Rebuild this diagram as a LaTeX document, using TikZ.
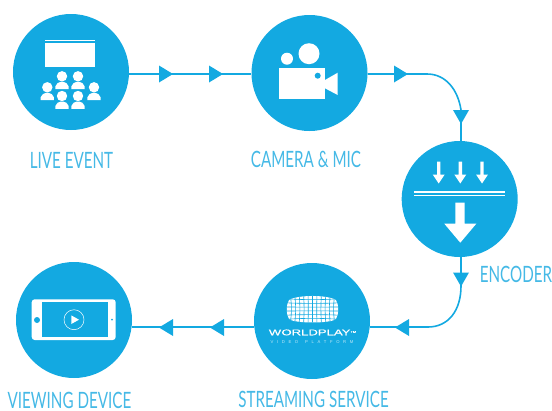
\documentclass[tikz,border=0pt]{standalone}
\usepackage{fontspec}
\newfontfamily\lab[FakeStretch=0.675]{Lato}
\newfontfamily\wpa[FakeStretch=1.58,FakeBold=0.3]{Liberation Sans}
\newfontfamily\wpb{Liberation Sans}
\usetikzlibrary{calc}
\definecolor{wb}{HTML}{13A9E1}
\definecolor{wl}{HTML}{45B9E6}
\tikzset{
  stage/.style={circle,fill=wb,draw=none,minimum size=116pt,inner sep=0pt},
  caption/.style={text=wl,font=\lab\fontsize{22.5}{24}\selectfont,inner sep=0pt,anchor=center},
  link/.style={draw=wb,line width=1.6pt},
  tri/.style={fill=wb,draw=none},
  ico/.style={fill=white,draw=none}
}
\newcommand{\person}[2]{%
  \fill[white] (#1,#2) circle (5.2);
  \fill[white] ($(#1,#2)+(-6.6,12.8)$) -- ($(#1,#2)+(-6.6,10)$) .. controls ($(#1,#2)+(-6.2,7)$) and ($(#1,#2)+(-3,6)$) .. ($(#1,#2)+(-1.5,5.6)$) -- ($(#1,#2)+(1.5,5.6)$) .. controls ($(#1,#2)+(3,6)$) and ($(#1,#2)+(6.2,7)$) .. ($(#1,#2)+(6.6,10)$) -- ($(#1,#2)+(6.6,12.8)$) -- cycle;
}
\newcommand{\triR}[2]{\fill[tri] (#1,#2-8.5) -- (#1+14,#2) -- (#1,#2+8.5) -- cycle;}
\newcommand{\triL}[2]{\fill[tri] (#1,#2) -- (#1+14,#2-8.5) -- (#1+14,#2+8.5) -- cycle;}
\newcommand{\triD}[2]{\fill[tri] (#1-8,#2) -- (#1+8,#2) -- (#1,#2+14) -- cycle;}
\newcommand{\smarrow}[1]{\fill[white] (#1-1.7,161.7) -- (#1+1.7,161.7) -- (#1+1.7,174.5) -- (#1+6,174.5) -- (#1,183.5) -- (#1-6,174.5) -- (#1-1.7,174.5) -- cycle;}
\begin{document}
\begin{tikzpicture}[x=1pt,y=-1pt]
\useasboundingbox (0,0) rectangle (552,410);
% stages
\node[stage] (live) at (71,72) {};
\node[stage] (cam) at (309.5,73) {};
\node[stage] (enc) at (459.7,199) {};
\node[stage] (stream) at (312,321) {};
\node[stage] (view) at (74,320) {};
% connectors
\coordinate (c1) at (408,74);
\coordinate (c2) at (461,110);
\coordinate (c3) at (461,286);
\coordinate (c4) at (409,327);
\draw[link] (live.center |- c1) ++(58,0) -- (cam.west |- c1);
\draw[link] (cam.east |- c1) -- (c1) -- (427,74) .. controls (446,74) and (458,90) .. (c2) -- (c2 |- enc.north);
\draw[link] (c2 |- enc.south) -- (c3) .. controls (461,311) and (448,327) .. (428,327) -- (stream.east |- c4);
\draw[link] (stream.west |- c4) -- (view.east |- c4);
\triR{159}{74}\triR{209}{74}\triR{394}{74}
\triD{461}{110}\triD{461}{272.5}
\triL{395}{327.5}\triL{210}{327.5}\triL{159}{327.5}
% live icon
\fill[white] (45.3,40.3) rectangle (95,41.2);
\fill[white] (45.3,42.7) rectangle (95,66.7);
\person{47.3}{87.3}\person{94}{87.3}
\person{62}{76.3}\person{78}{76.3}
\person{62}{96}\person{78}{96}
% camera icon
\fill[white] (309,53.7) circle (10.5);
\fill[white] (287,58.7) circle (6);
\fill[white] (278.7,67.7) rectangle (325,99);
\fill[wb] (317.7,75.7) circle (3);
\fill[white] (325,80) -- (337.7,72.7) -- (337.7,95) -- (325,88.3) -- cycle;
% encoder icon
\smarrow{438.7}\smarrow{460.3}\smarrow{482}
\fill[white] (413.7,191) rectangle (504.7,192.6);
\fill[white] (413.7,194.9) rectangle (504.7,195.8);
\fill[white] (455.3,202.7) -- (464.7,202.7) -- (464.7,223.7) -- (476.3,223.7) -- (460.3,242.7) -- (444.3,223.7) -- (455.3,223.7) -- cycle;
% worldplay logo
\begin{scope}
\clip (294,298) .. controls (304,295.3) and (321,295.3) .. (331,298) .. controls (336,299) and (337.2,301) .. (337.6,304) .. controls (338.4,308) and (338.4,311) .. (337.6,315) .. controls (337.2,318) and (336,320) .. (331,321) .. controls (321,323) and (304,323) .. (294,321) .. controls (289,320) and (287.8,318) .. (287.4,315) .. controls (286.6,311) and (286.6,308) .. (287.4,304) .. controls (287.8,301) and (289,299) .. (294,298) -- cycle;
\fill[white] (280,290) rectangle (345,330);
\foreach \v in {-21.5,-17.2,-12.9,-8.6,-4.3,0,4.3,8.6,12.9,17.2,21.5}
  \draw[wb,line width=.6pt] (312.5+\v*1.04,294) .. controls (312.5+\v*.96,305) and (312.5+\v*.96,313) .. (312.5+\v*1.04,324);
\foreach \h in {-10,-6,-2,2,6,10}
  \draw[wb,line width=.6pt] (284,309+\h*1.05) .. controls (300,309+\h*.9) and (325,309+\h*.9) .. (341,309+\h*1.05);
\end{scope}
\node[inner sep=0pt,text=white] (wlogo) at (312.5,332.4) {\wpa\fontsize{8.3}{9}\selectfont W\kern.3pt ORLDPLAY\raisebox{2.5pt}{\fontsize{2.5}{3}\selectfont TM}};
\node[inner sep=0pt,text=white!75!wb] (wsub) at (312,341.7) {\wpb\fontsize{4.2}{5}\selectfont V\kern3.6pt I\kern3.6pt D\kern3.6pt E\kern3.6pt O\kern7pt P\kern3.6pt L\kern3.6pt A\kern3.6pt T\kern3.6pt F\kern3.6pt O\kern3.6pt R\kern3.6pt M};
% phone icon
\fill[white,rounded corners=3] (31.7,299.3) rectangle (115.7,340);
\fill[wb] (42.3,302) rectangle (108.3,337.3);
\fill[wb] (37,320) circle (3);
\fill[wb] (112,319.5) circle (1);
\draw[white,line width=.5pt] (74,319.7) circle (10);
\fill[white] (71.3,315.4) -- (79,319.7) -- (71.3,324) -- cycle;
% captions
\node[caption] (t1) at (71.5,160) {LIVE EVENT};
\node[caption] (t2) at (306,159) {CAMERA \& MIC};
\node[caption] (t3) at (516,274) {ENCODER};
\node[caption] (t4) at (313.5,399) {STREAMING SERVICE};
\node[caption] (t5) at (69.5,400.5) {VIEWING DEVICE};
\end{tikzpicture}
\end{document}
